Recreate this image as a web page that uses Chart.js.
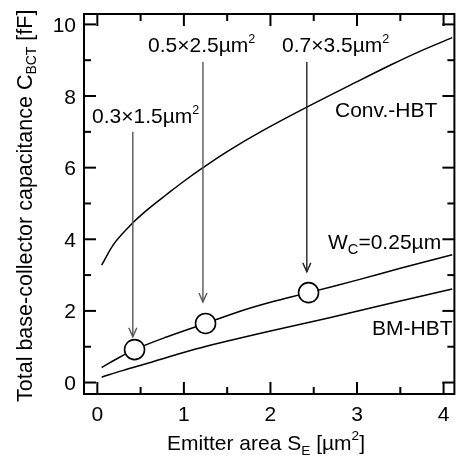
<!DOCTYPE html>
<html>
<head>
<meta charset="utf-8">
<script src="https://cdn.jsdelivr.net/npm/chart.js@4/dist/chart.umd.min.js"></script>
<style>
  html, body { margin: 0; padding: 0; overflow: hidden; background: #fff; }
  #wrap { width: 466px; height: 457px; }
</style>
</head>
<body>
<div id="wrap"><canvas id="capChart" width="466" height="457"></canvas></div>
<script>
// emitter area [um^2] vs total base-collector capacitance [fF]
const convX = [0.05, 0.2, 0.41, 0.6, 0.8, 1.0, 1.22, 1.5, 1.9, 2.42, 3.0, 3.4, 3.7, 4.1];
const convY = [3.28, 3.9, 4.46, 4.87, 5.25, 5.62, 6.0, 6.45, 7.02, 7.69, 8.4, 8.88, 9.22, 9.63];
const wcX = [0.05, 0.2, 0.43, 0.8, 1.25, 1.65, 2.0, 2.44, 3.0, 3.5, 4.1];
const wcY = [0.42, 0.63, 0.92, 1.27, 1.65, 1.99, 2.24, 2.51, 2.86, 3.19, 3.57];
const bmX = [0.05, 0.3, 0.6, 0.9, 1.27, 2.0, 2.67, 3.4, 4.1];
const bmY = [0.15, 0.34, 0.55, 0.77, 1.02, 1.44, 1.8, 2.22, 2.61];

// fabricated devices (open circles) and their arrows
const devArea = [0.43, 1.25, 2.44];
const devCap = [0.92, 1.65, 2.51];
const devNames = ['0.3×1.5µm', '0.5×2.5µm', '0.7×3.5µm'];
const arrowX = [0.41, 1.22, 2.42];
const arrowTop = [7.0, 8.95, 8.95];
const arrowTip = [1.28, 2.25, 3.09];

const xMajor = [0, 1, 2, 3, 4];
const xMinor = [0.5, 1.5, 2.5, 3.5];
const yMajor = [0, 2, 4, 6, 8, 10];
const yMinor = [1, 3, 5, 7, 9];

const toPts = (xs, ys) => xs.map((x, i) => ({ x: x, y: ys[i] }));

const FONT = '"Liberation Sans", Arial, sans-serif';

// draws a row of text pieces (normal / sub / sup)
function drawRuns(ctx, runs, x, y, size, align) {
  const pieces = runs.map(r => {
    const s = size * (r.k || 1);
    ctx.font = s + 'px ' + FONT;
    return { t: r.t, s: s, dy: (r.dy || 0) * size, w: ctx.measureText(r.t).width };
  });
  const total = pieces.reduce((a, p) => a + p.w, 0);
  let cx = align === 'center' ? x - total / 2 : align === 'right' ? x - total : x;
  ctx.textBaseline = 'alphabetic';
  ctx.textAlign = 'left';
  pieces.forEach(p => {
    ctx.font = p.s + 'px ' + FONT;
    ctx.fillText(p.t, cx, y + p.dy);
    cx += p.w;
  });
}

const framePlugin = {
  id: 'frame',
  afterDatasetsDraw(chart) {
    const { ctx, chartArea: a, scales: { x, y } } = chart;
    ctx.save();
    ctx.strokeStyle = '#000';
    ctx.fillStyle = '#000';

    // ticks on all four sides, pointing inward
    ctx.lineWidth = 2;
    const seg = (x0, y0, x1, y1) => { ctx.beginPath(); ctx.moveTo(x0, y0); ctx.lineTo(x1, y1); ctx.stroke(); };
    xMajor.forEach(v => { const px = x.getPixelForValue(v); seg(px, a.bottom, px, a.bottom - 12); seg(px, a.top, px, a.top + 12); });
    xMinor.forEach(v => { const px = x.getPixelForValue(v); seg(px, a.bottom, px, a.bottom - 7); seg(px, a.top, px, a.top + 7); });
    yMajor.forEach(v => { const py = y.getPixelForValue(v); seg(a.left, py, a.left + 12, py); seg(a.right, py, a.right - 12, py); });
    yMinor.forEach(v => { const py = y.getPixelForValue(v); seg(a.left, py, a.left + 7, py); seg(a.right, py, a.right - 7, py); });
    ctx.strokeRect(a.left, a.top, a.right - a.left, a.bottom - a.top);

    // tick labels
    yMajor.forEach(v => drawRuns(ctx, [{ t: String(v) }], 76, y.getPixelForValue(v) + 7.5, 21, 'right'));
    xMajor.forEach(v => drawRuns(ctx, [{ t: String(v) }], x.getPixelForValue(v), 421, 21, 'center'));

    // axis titles
    drawRuns(ctx, [
      { t: 'Emitter area S' }, { t: 'E', k: 0.65, dy: 0.22 },
      { t: ' [µm' }, { t: '2', k: 0.65, dy: -0.5 }, { t: ']' }
    ], 266, 450, 21, 'center');
    ctx.save();
    ctx.translate(31.5, 402);
    ctx.rotate(-Math.PI / 2);
    drawRuns(ctx, [
      { t: 'Total base-collector capacitance C' }, { t: 'BCT', k: 0.65, dy: 0.22 }, { t: ' [fF]' }
    ], 0, 0, 21.5, 'left');
    ctx.restore();

    // arrows pointing at the devices
    ctx.lineWidth = 1.4;
    arrowX.forEach((v, i) => {
      ctx.strokeStyle = i < 2 ? '#555' : '#222';
      const px = x.getPixelForValue(v);
      const top = y.getPixelForValue(arrowTop[i]);
      const tip = y.getPixelForValue(arrowTip[i]);
      seg(px, top, px, tip);
      ctx.beginPath();
      ctx.moveTo(px - 4, tip - 9);
      ctx.lineTo(px, tip);
      ctx.lineTo(px + 4, tip - 9);
      ctx.stroke();
    });

    // device size labels
    const labelPos = [[92, 123], [148, 52], [282, 52]];
    devNames.forEach((n, i) => {
      drawRuns(ctx, [{ t: n }, { t: '2', k: 0.6, dy: -0.42 }], labelPos[i][0], labelPos[i][1], 21, 'left');
    });

    // curve labels
    drawRuns(ctx, [{ t: 'Conv.-HBT' }], 335, 117, 21, 'left');
    drawRuns(ctx, [{ t: 'W' }, { t: 'C', k: 0.7, dy: 0.25 }, { t: '=0.25µm' }], 328, 249, 21, 'left');
    drawRuns(ctx, [{ t: 'BM-HBT' }], 372, 335, 21, 'left');
    ctx.restore();
  }
};

const lineStyle = { borderColor: '#000', borderWidth: 1.5, pointRadius: 0, showLine: true, fill: false, tension: 0.35 };

new Chart(document.getElementById('capChart'), {
  type: 'scatter',
  data: {
    datasets: [
      { label: 'Devices', data: toPts(devArea, devCap), pointRadius: 10, pointBackgroundColor: '#fff', pointBorderColor: '#000', pointBorderWidth: 1.6, showLine: false, order: 0 },
      Object.assign({ label: 'Conv.-HBT', data: toPts(convX, convY), order: 1 }, lineStyle),
      Object.assign({ label: 'Wc=0.25um', data: toPts(wcX, wcY), order: 1 }, lineStyle),
      Object.assign({ label: 'BM-HBT', data: toPts(bmX, bmY), order: 1 }, lineStyle)
    ]
  },
  options: {
    responsive: false,
    animation: false,
    devicePixelRatio: 1,
    layout: { padding: { left: 84, top: 14, right: 2, bottom: 63 } },
    scales: {
      x: { type: 'linear', min: -0.154, max: 4.125, display: false },
      y: { type: 'linear', min: -0.32, max: 10.29, display: false }
    },
    plugins: { legend: { display: false }, tooltip: { enabled: false } }
  },
  plugins: [framePlugin]
});
</script>
</body>
</html>
